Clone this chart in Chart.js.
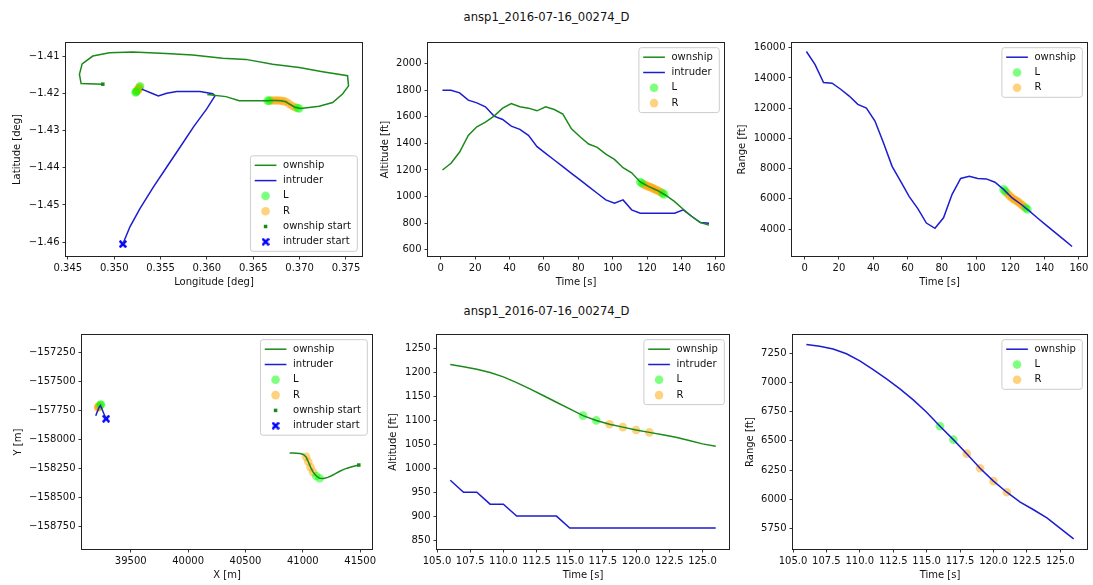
<!DOCTYPE html>
<html>
<head>
<meta charset="utf-8">
<title>ansp1_2016-07-16_00274_D</title>
<script src="https://cdn.jsdelivr.net/npm/chart.js@4.4.1/dist/chart.umd.min.js"></script>
<style>
  html, body { margin: 0; padding: 0; background: #fff; }
  body { position: relative; width: 1093px; height: 585px; overflow: hidden; font-family: "DejaVu Sans", sans-serif; }
  .suptitle { position: absolute; left: 0; width: 1093px; text-align: center; font-size: 11.6px; line-height: 14px; color: #111; }
  canvas { position: absolute; }
</style>
</head>
<body>
<div class="suptitle" style="top:10px">ansp1_2016-07-16_00274_D</div>
<div class="suptitle" style="top:304px">ansp1_2016-07-16_00274_D</div>
<canvas id="pLatLon"></canvas>
<canvas id="pAlt"></canvas>
<canvas id="pRange"></canvas>
<canvas id="pXY"></canvas>
<canvas id="pAltZoom"></canvas>
<canvas id="pRangeZoom"></canvas>
<script>
// ---------- whole encounter, 5 s samples ----------
const timeCoarse = [1, 6, 11, 16, 21, 26, 31, 36, 41, 46, 51, 56, 61, 66, 71, 76, 81, 86, 91, 96, 101, 106, 111, 116, 121, 126, 131, 136, 141, 146, 151, 156];
const ownAltCoarse = [1200, 1250, 1335, 1460, 1525, 1560, 1605, 1665, 1700, 1675, 1665, 1645, 1675, 1655, 1620, 1510, 1450, 1395, 1370, 1320, 1280, 1217, 1179, 1110, 1075, 1046, 1008, 962, 905, 850, 805, 785];
const intAltCoarse = [1800, 1800, 1780, 1725, 1705, 1675, 1605, 1580, 1530, 1505, 1460, 1375, 1325, 1275, 1225, 1175, 1125, 1075, 1025, 975, 950, 975, 900, 875, 875, 875, 875, 875, 900, 850, 805, 800];
const rangeCoarse = [15750, 14900, 13700, 13650, 13250, 12800, 12250, 12000, 11150, 9700, 8150, 7150, 6150, 5350, 4400, 4050, 4750, 6300, 7350, 7500, 7350, 7320, 7100, 6625, 6060, 5660, 5200, 4720, 4250, 3780, 3320, 2850];

// advisory samples over the whole encounter
const advTimeL = [116, 117, 129, 130];
const advTimeR = [118, 119, 120, 121, 122, 123, 124, 125, 126, 127, 128];
const advAltL = [1110, 1100, 1024, 1016];
const advAltR = [1092, 1086, 1080, 1075, 1070, 1065, 1058, 1051, 1046, 1040, 1032];
const advRangeL = [6625, 6510, 5390, 5300];
const advRangeR = [6390, 6265, 6155, 6060, 5975, 5910, 5840, 5750, 5660, 5570, 5480];

// ground tracks (deg)
const ownLon = [0.34877, 0.34643, 0.34625, 0.34654, 0.34769, 0.34948, 0.35200, 0.35559, 0.35847, 0.36170, 0.36421, 0.36709, 0.36996, 0.37248, 0.37517, 0.37528, 0.37463, 0.37356, 0.37211, 0.37014, 0.36949, 0.36885, 0.36853, 0.36799, 0.36745, 0.36691, 0.36655, 0.36349, 0.36206, 0.36004];
const ownLat = [-1.41756, -1.4174, -1.4149, -1.4121, -1.4100, -1.4091, -1.4089, -1.4093, -1.4097, -1.4106, -1.4109, -1.4122, -1.4131, -1.4142, -1.4153, -1.4180, -1.4202, -1.4225, -1.4235, -1.4241, -1.42375, -1.42282, -1.42228, -1.42202, -1.42193, -1.42193, -1.42202, -1.4220, -1.4209, -1.4203];
const intLon = [0.35093, 0.35171, 0.35279, 0.35422, 0.35567, 0.35710, 0.35854, 0.35998, 0.36087, 0.36063, 0.35926, 0.35675, 0.35567, 0.35476, 0.35405, 0.35297];
const intLat = [-1.4605, -1.4558, -1.4509, -1.4452, -1.4398, -1.4345, -1.4291, -1.4242, -1.4207, -1.4201, -1.4195, -1.4195, -1.4200, -1.4207, -1.4200, -1.4189];
const advOwnLonL = [0.36996, 0.36975, 0.36672, 0.36655];
const advOwnLatL = [-1.42407, -1.42395, -1.42198, -1.42202];
const advOwnLonR = [0.36949, 0.36917, 0.36885, 0.36853, 0.36826, 0.36799, 0.36772, 0.36745, 0.36718, 0.36691];
const advOwnLatR = [-1.42375, -1.42335, -1.42282, -1.42228, -1.42212, -1.42202, -1.42196, -1.42193, -1.42193, -1.42193];
const advIntLonL = [0.35231, 0.35237, 0.35279];
const advIntLatL = [-1.41975, -1.41960, -1.41815];
const advIntLonR = [0.35243, 0.35249, 0.35255, 0.35261, 0.35267, 0.35273];
const advIntLatR = [-1.41945, -1.41925, -1.41905, -1.41885, -1.41865, -1.41840];

// ---------- 106-126 s window, 1 s samples ----------
const timeFine = [106, 107, 108, 109, 110, 111, 112, 113, 114, 115, 116, 117, 118, 119, 120, 121, 122, 123, 124, 125, 126];
const ownAltFine = [1217, 1212, 1207, 1200, 1191, 1179, 1166, 1152, 1138, 1124, 1110, 1100, 1092, 1086, 1080, 1075, 1070, 1065, 1058, 1051, 1046];
const intAltFine = [975, 950, 950, 925, 925, 900, 900, 900, 900, 875, 875, 875, 875, 875, 875, 875, 875, 875, 875, 875, 875];
const rangeFine = [7325, 7310, 7285, 7245, 7185, 7110, 7030, 6945, 6850, 6745, 6625, 6510, 6390, 6265, 6155, 6060, 5975, 5910, 5840, 5750, 5660];
const fineTimeL = [116, 117];
const fineTimeR = [118, 119, 120, 121];
const fineAltL = [1110, 1100];
const fineAltR = [1092, 1086, 1080, 1075];
const fineRangeL = [6625, 6510];
const fineRangeR = [6390, 6265, 6155, 6060];

// local tracks (m)
const ownX = [41488, 41454, 41420, 41386, 41352, 41318, 41284, 41250, 41217, 41182, 41146, 41117, 41090, 41068, 41048, 41028, 41005, 40975, 40945, 40915, 40885];
const ownY = [-158221, -158229, -158238, -158248, -158261, -158277, -158296, -158314, -158328, -158337, -158336, -158316, -158283, -158241, -158193, -158150, -158130, -158122, -158118, -158117, -158116];
const intX = [39285, 39265, 39248, 39235, 39222, 39208, 39195];
const intY = [-157820, -157775, -157733, -157705, -157725, -157760, -157795];
const advOwnXL = [41146, 41117];
const advOwnYL = [-158336, -158316];
const advOwnXR = [41090, 41068, 41048, 41028];
const advOwnYR = [-158283, -158241, -158193, -158150];
const advIntXL = [39240, 39236];
const advIntYL = [-157697, -157702];
const advIntXR = [39224, 39221, 39218, 39216];
const advIntYR = [-157710, -157715, -157719, -157723];

// ---------- tick values ----------
const ticksLon = [0.345, 0.350, 0.355, 0.360, 0.365, 0.370, 0.375];
const ticksLat = [-1.46, -1.45, -1.44, -1.43, -1.42, -1.41];
const ticksTime = [0, 20, 40, 60, 80, 100, 120, 140, 160];
const ticksAlt = [600, 800, 1000, 1200, 1400, 1600, 1800, 2000];
const ticksRange = [4000, 6000, 8000, 10000, 12000, 14000, 16000];
const ticksX = [39500, 40000, 40500, 41000, 41500];
const ticksY = [-158750, -158500, -158250, -158000, -157750, -157500, -157250];
const ticksTimeFine = [105, 107.5, 110, 112.5, 115, 117.5, 120, 122.5, 125];
const ticksAltFine = [850, 900, 950, 1000, 1050, 1100, 1150, 1200, 1250];
const ticksRangeFine = [5750, 6000, 6250, 6500, 6750, 7000, 7250];

// ---------- styling ----------
const FS = 10;
const TXT = '#111';
const GREEN = '#1a8a1a';
const BLUE = '#1c1cd0';
const L_FILL = 'rgba(0,255,0,0.5)';
const R_FILL = 'rgba(255,165,0,0.5)';
const DOT_R = 4.3;

Chart.defaults.font.family = "'DejaVu Sans', sans-serif";
Chart.defaults.font.size = FS;
Chart.defaults.color = TXT;

const fmt = (v, d) => (v < 0 ? '\u2212' : '') + Math.abs(v).toFixed(d);
const pts = (xs, ys) => xs.map((x, i) => ({ x: x, y: ys[i] }));

// filled "X" marker used for the intruder start
function xMarker(size, color) {
  const c = document.createElement('canvas');
  c.width = c.height = size;
  const g = c.getContext('2d');
  g.translate(size / 2, size / 2);
  g.rotate(Math.PI / 4);
  const a = size * 0.58, w = size * 0.16;
  g.beginPath();
  g.moveTo(-w, -a); g.lineTo(w, -a); g.lineTo(w, -w); g.lineTo(a, -w); g.lineTo(a, w); g.lineTo(w, w);
  g.lineTo(w, a); g.lineTo(-w, a); g.lineTo(-w, w); g.lineTo(-a, w); g.lineTo(-a, -w); g.lineTo(-w, -w);
  g.closePath();
  g.fillStyle = color;
  g.fill();
  return c;
}
const X_IMG = xMarker(8, '#0000ff');

const lineDs = (data, color) => ({ data, showLine: true, borderColor: color, borderWidth: 1.5, pointRadius: 0, fill: false, tension: 0 });
const dotDs = (data, fill) => ({ data, showLine: false, pointRadius: DOT_R, pointBackgroundColor: fill, pointBorderWidth: 0, borderWidth: 0 });
const squareDs = (data) => ({ data, showLine: false, pointStyle: 'rect', pointRadius: 2.5, pointBackgroundColor: GREEN, pointBorderWidth: 0, borderWidth: 0 });
const xDs = (data) => ({ data, showLine: false, pointStyle: X_IMG, pointRadius: 4, borderWidth: 0 });

// axes frame on all four sides
const framePlugin = {
  id: 'frame',
  afterDraw(chart) {
    const { ctx, chartArea: a } = chart;
    ctx.save();
    ctx.strokeStyle = '#222';
    ctx.lineWidth = 1;
    ctx.strokeRect(Math.round(a.left) - 0.5, Math.round(a.top) - 0.5, Math.round(a.right - a.left) + 1, Math.round(a.bottom - a.top) + 1);
    ctx.restore();
  }
};

// legend box drawn inside the plot area
const boxLegend = {
  id: 'boxLegend',
  afterDraw(chart, args, o) {
    if (!o || !o.items) return;
    const { ctx, chartArea: a } = chart;
    ctx.save();
    ctx.font = FS + "px 'DejaVu Sans', sans-serif";
    const row = 15.3, handle = 21.7, padL = 4.3, gap = 6.6, padR = 6.5;
    const tw = Math.max(...o.items.map(it => ctx.measureText(it.label).width));
    const w = padL + handle + gap + tw + padR;
    const h = (o.items.length - 1) * row + 19;
    const x = a.right - 4.7 - w;
    const y = o.loc === 'lower right' ? a.bottom - 4.7 - h : a.top + 4.7;
    ctx.beginPath();
    if (ctx.roundRect) ctx.roundRect(x, y, w, h, 2.5); else ctx.rect(x, y, w, h);
    ctx.fillStyle = 'rgba(255,255,255,0.8)';
    ctx.fill();
    ctx.strokeStyle = '#cccccc';
    ctx.lineWidth = 1;
    ctx.stroke();
    o.items.forEach((it, k) => {
      const cy = y + 9.5 + k * row;
      const hx = x + padL, mx = hx + handle / 2;
      if (it.kind === 'line') {
        ctx.beginPath(); ctx.moveTo(hx, cy); ctx.lineTo(hx + handle, cy);
        ctx.strokeStyle = it.color; ctx.lineWidth = 1.5; ctx.stroke();
      } else if (it.kind === 'dot') {
        ctx.beginPath(); ctx.arc(mx, cy, DOT_R, 0, 2 * Math.PI);
        ctx.fillStyle = it.color; ctx.fill();
      } else if (it.kind === 'square') {
        ctx.fillStyle = it.color; ctx.fillRect(mx - 1.75, cy - 1.75, 3.5, 3.5);
      } else if (it.kind === 'x') {
        ctx.drawImage(X_IMG, mx - X_IMG.width / 2, cy - X_IMG.height / 2);
      }
      ctx.fillStyle = TXT;
      ctx.textBaseline = 'middle';
      ctx.textAlign = 'left';
      ctx.fillText(it.label, hx + handle + gap, cy);
    });
    ctx.restore();
  }
};

function axis(s, dir, size) {
  return {
    type: 'linear',
    position: dir === 'x' ? 'bottom' : 'left',
    min: s.min, max: s.max,
    title: { display: true, text: s.title, color: TXT, font: { size: FS },
             padding: dir === 'x' ? { top: 0, bottom: 4 } : { top: 2, bottom: 0 } },
    grid: { display: true, drawOnChartArea: false, drawTicks: true, tickLength: 3.5, color: '#222', lineWidth: 0.9 },
    border: { display: false },
    ticks: { autoSkip: false, maxRotation: 0, minRotation: 0, padding: 3, color: TXT, font: { size: FS },
             callback: v => fmt(v, s.dec) },
    afterBuildTicks: sc => { sc.ticks = s.ticks.map(v => ({ value: v })); },
    afterFit: sc => { if (dir === 'x') sc.height = size; else sc.width = size; }
  };
}

function panel(id, g, xs, ys, datasets, legend) {
  const cv = document.getElementById(id);
  const top = g.t - 8;
  cv.width = g.r + 12 - g.cl;
  cv.height = g.b + 36 - top;
  cv.style.left = g.cl + 'px';
  cv.style.top = top + 'px';
  new Chart(cv, {
    type: 'scatter',
    data: { datasets },
    options: {
      responsive: false, animation: false, devicePixelRatio: 1, events: [],
      layout: { padding: { left: 0, top: 8, right: 12, bottom: 0 }, autoPadding: false },
      plugins: { legend: { display: false }, tooltip: { enabled: false }, boxLegend: legend },
      scales: { x: axis(xs, 'x', 36), y: axis(ys, 'y', g.l - g.cl) }
    },
    plugins: [framePlugin, boxLegend]
  });
}

const legendFull = [
  { label: 'ownship', kind: 'line', color: GREEN },
  { label: 'intruder', kind: 'line', color: BLUE },
  { label: 'L', kind: 'dot', color: L_FILL },
  { label: 'R', kind: 'dot', color: R_FILL },
  { label: 'ownship start', kind: 'square', color: GREEN },
  { label: 'intruder start', kind: 'x' }
];
const legendAlt = legendFull.slice(0, 4);
const legendRange = [
  { label: 'ownship', kind: 'line', color: BLUE },
  { label: 'L', kind: 'dot', color: L_FILL },
  { label: 'R', kind: 'dot', color: R_FILL }
];

// Latitude / longitude tracks
panel('pLatLon', { cl: 9, l: 66, t: 42, r: 362, b: 256 },
  { min: 0.3448, max: 0.37673, ticks: ticksLon, dec: 3, title: 'Longitude [deg]' },
  { min: -1.4637, max: -1.4065, ticks: ticksLat, dec: 2, title: 'Latitude [deg]' },
  [
    lineDs(pts(ownLon, ownLat), GREEN),
    lineDs(pts(intLon, intLat), BLUE),
    squareDs([{ x: ownLon[0], y: ownLat[0] }]),
    xDs([{ x: intLon[0], y: intLat[0] }]),
    dotDs(pts(advOwnLonL, advOwnLatL).concat(pts(advIntLonL, advIntLatL)), L_FILL),
    dotDs(pts(advOwnLonR, advOwnLatR).concat(pts(advIntLonR, advIntLatR)), R_FILL)
  ],
  { loc: 'lower right', items: legendFull });

// Altitude, whole encounter
panel('pAlt', { cl: 377, l: 428, t: 42, r: 724, b: 256 },
  { min: -7.4, max: 164.7, ticks: ticksTime, dec: 0, title: 'Time [s]' },
  { min: 553, max: 2155, ticks: ticksAlt, dec: 0, title: 'Altitude [ft]' },
  [
    lineDs(pts(timeCoarse, ownAltCoarse), GREEN),
    lineDs(pts(timeCoarse, intAltCoarse), BLUE),
    dotDs(pts(advTimeL, advAltL), L_FILL),
    dotDs(pts(advTimeR, advAltR), R_FILL)
  ],
  { loc: 'upper right', items: legendAlt });

// Range, whole encounter
panel('pRange', { cl: 734, l: 792, t: 42, r: 1087, b: 256 },
  { min: -7.4, max: 164.7, ticks: ticksTime, dec: 0, title: 'Time [s]' },
  { min: 2220, max: 16310, ticks: ticksRange, dec: 0, title: 'Range [ft]' },
  [
    lineDs(pts(timeCoarse, rangeCoarse), BLUE),
    dotDs(pts(advTimeL, advRangeL), L_FILL),
    dotDs(pts(advTimeR, advRangeR), R_FILL)
  ],
  { loc: 'upper right', items: legendRange });

// Local X / Y tracks
panel('pXY', { cl: 10, l: 82, t: 334, r: 372, b: 549 },
  { min: 39075, max: 41603, ticks: ticksX, dec: 0, title: 'X [m]' },
  { min: -158948, max: -157095, ticks: ticksY, dec: 0, title: 'Y [m]' },
  [
    lineDs(pts(ownX, ownY), GREEN),
    lineDs(pts(intX, intY), BLUE),
    squareDs([{ x: ownX[0], y: ownY[0] }]),
    xDs([{ x: intX[0], y: intY[0] }]),
    dotDs(pts(advOwnXL, advOwnYL).concat(pts(advIntXL, advIntYL)), L_FILL),
    dotDs(pts(advOwnXR, advOwnYR).concat(pts(advIntXR, advIntYR)), R_FILL)
  ],
  { loc: 'upper right', items: legendFull });

// Altitude, 106-126 s
panel('pAltZoom', { cl: 385, l: 437, t: 334, r: 729, b: 549 },
  { min: 105, max: 127, ticks: ticksTimeFine, dec: 1, title: 'Time [s]' },
  { min: 831.3, max: 1278.5, ticks: ticksAltFine, dec: 0, title: 'Altitude [ft]' },
  [
    lineDs(pts(timeFine, ownAltFine), GREEN),
    lineDs(pts(timeFine, intAltFine), BLUE),
    dotDs(pts(fineTimeL, fineAltL), L_FILL),
    dotDs(pts(fineTimeR, fineAltR), R_FILL)
  ],
  { loc: 'upper right', items: legendAlt });

// Range, 106-126 s
panel('pRangeZoom', { cl: 742, l: 793, t: 334, r: 1087, b: 549 },
  { min: 105, max: 127, ticks: ticksTimeFine, dec: 1, title: 'Time [s]' },
  { min: 5574, max: 7405.6, ticks: ticksRangeFine, dec: 0, title: 'Range [ft]' },
  [
    lineDs(pts(timeFine, rangeFine), BLUE),
    dotDs(pts(fineTimeL, fineRangeL), L_FILL),
    dotDs(pts(fineTimeR, fineRangeR), R_FILL)
  ],
  { loc: 'upper right', items: legendRange });
</script>
</body>
</html>
